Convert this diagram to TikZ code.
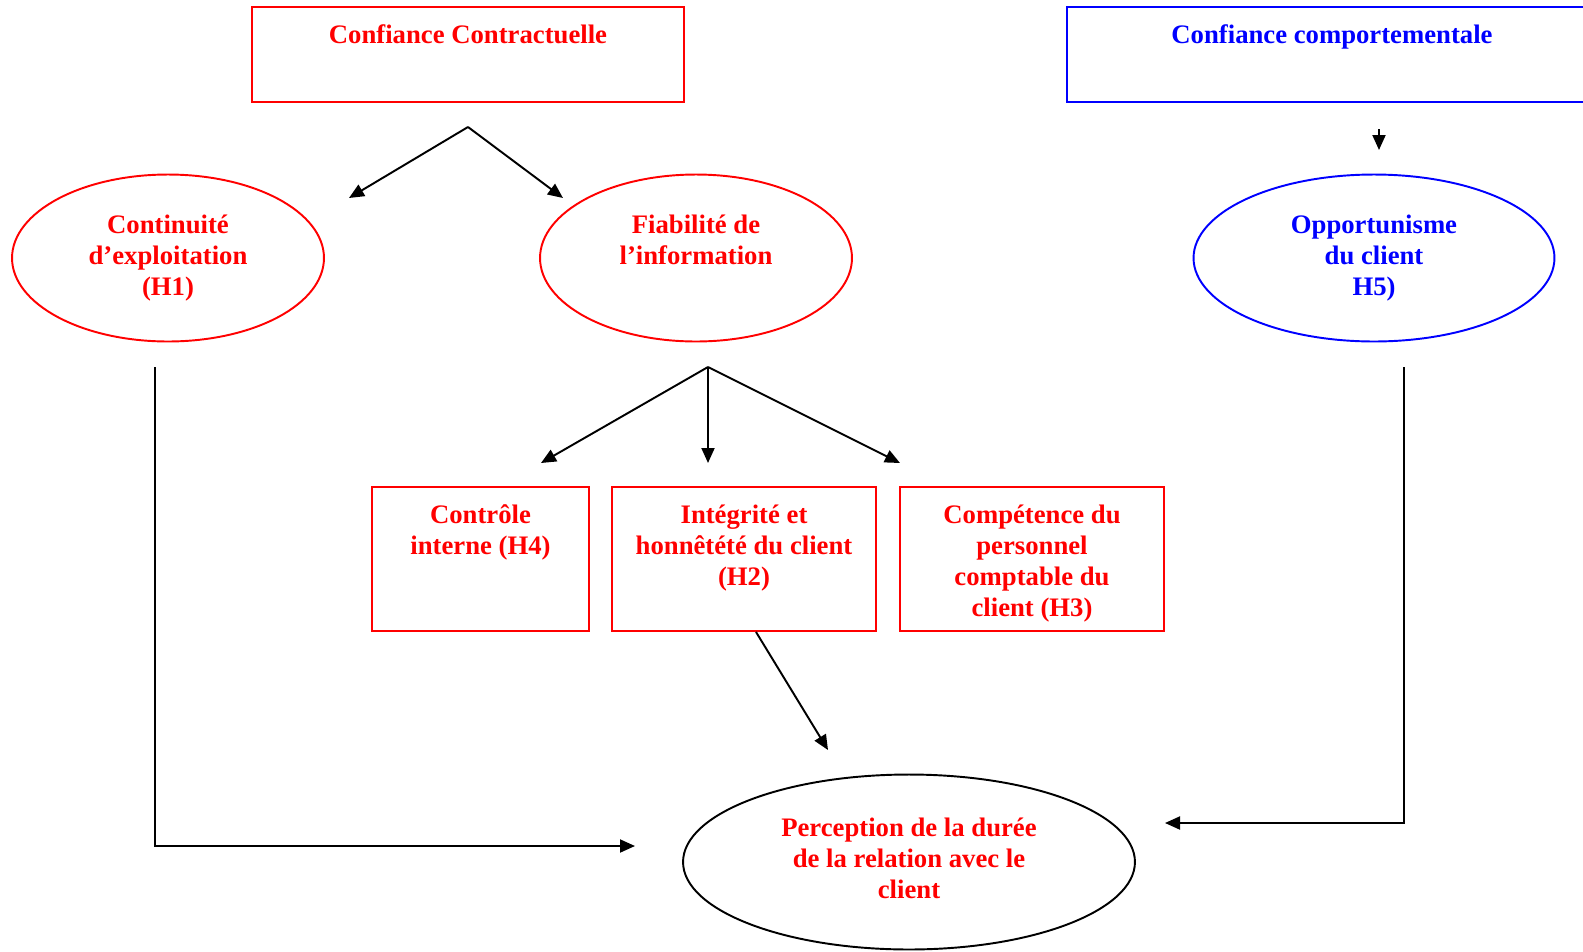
\documentclass[tikz,border=0pt]{standalone}
\usepackage{fontspec}
\setmainfont{Liberation Serif}
\usetikzlibrary{arrows.meta,shapes.geometric}

\tikzset{
  txt/.style={font=\fontsize{15.2}{17.8}\selectfont\bfseries,align=center,line width=1.1pt,inner sep=0pt},
  oval/.style={txt,ellipse,draw,minimum width=6.24cm,minimum height=3.34cm},
  head box/.style={txt,rectangle,draw,minimum height=1.9cm,text height=0.72cm,text depth=1.18cm},
  hyp box/.style 2 args={txt,rectangle,draw=red,text=red,minimum width=5.28cm,minimum height=2.88cm,text height=#1,text depth=#2},
  arr/.style={-{Triangle[length=0.3cm,width=0.26cm]},line width=1.1pt}
}

\begin{document}
\begin{tikzpicture}[x=0.02cm,y=-0.02cm]
  \clip (0,0) rectangle (1583,951);
  % les deux confiances
  \node[head box,draw=red,text=red,minimum width=8.64cm] (cc) at (468,54.5) {Confiance Contractuelle};
  \node[head box,draw=blue,text=blue,minimum width=10.6cm] (cb) at (1332,54.5) {Confiance comportementale};

  % ellipses
  \node[oval,draw=red,text=red] (co) at (168,258) {Continuit\'e\\d’exploitation\\(H1)};
  \node[oval,draw=red,text=red] (fi) at (696,258) {Fiabilit\'e de\\l’information\\\vphantom{(}};
  \node[oval,draw=blue,text=blue,minimum width=7.22cm] (op) at (1374,258) {Opportunisme\\du client\\H5)};

  % hypotheses
  \node[hyp box={1.346cm}{1.534cm},minimum width=4.34cm] (ci) at (480.5,559) {Contr\^ole\\interne (H4)};
  \node[hyp box={1.972cm}{0.908cm}] (ih) at (744,559) {Int\'egrit\'e et\\honn\^et\'et\'e du client\\(H2)};
  \node[hyp box={2.598cm}{0.282cm}] (cp) at (1032,559) {Comp\'etence du\\personnel\\comptable du\\client (H3)};

  \node[oval,draw=black,text=red,minimum width=9.04cm,minimum height=3.5cm,text depth=0.16cm] (pe) at (909,862) {Perception de la dur\'ee\\de la relation avec le\\client};

  % connecteurs
  \coordinate (c1) at (468,127);
  \coordinate (c1a) at (349,198);
  \coordinate (c1b) at (563,198);
  \coordinate (c2) at (708,367);
  \coordinate (c2a) at (541,463);
  \coordinate (c2b) at (708,463);
  \coordinate (c2c) at (900,463);
  \coordinate (c3) at (1379,129);
  \coordinate (c3a) at (1379,150);
  \coordinate (c4) at (828,750);
  \coordinate (l1) at (155,367);
  \coordinate (l2) at (635,846);
  \coordinate (r1) at (1404,367);
  \coordinate (r2) at (1165,823);

  \draw[arr] (c1) -- (c1a);
  \draw[arr] (c1) -- (c1b);
  \draw[arr] (c2) -- (c2a);
  \draw[arr] (c2) -- (c2b);
  \draw[arr] (c2) -- (c2c);
  \draw[arr] (c3) -- (c3a);
  \draw[arr] ([xshift=0.24cm]ih.south) -- (c4);
  \draw[arr] (l1) |- (l2);
  \draw[arr] (r1) |- (r2);

\end{tikzpicture}
\end{document}
